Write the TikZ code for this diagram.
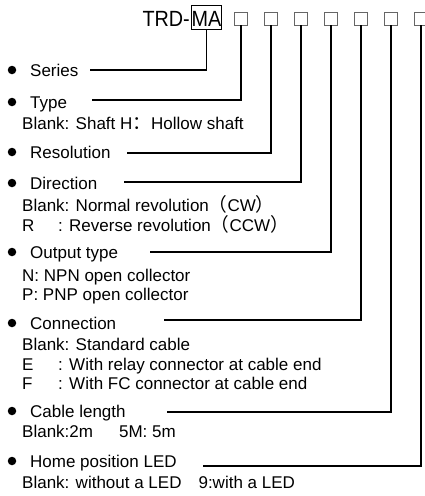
\documentclass[tikz,border=0pt]{standalone}
\usepackage{fontspec}
\setmainfont{Liberation Sans}
\newfontfamily\cjkf{Noto Sans CJK SC}[Scale=1.1]
\newcommand{\fw}[1]{{\cjkf #1}}
\newcommand{\ttl}[1]{\scalebox{0.9}[1]{#1}}
\begin{document}
\begin{tikzpicture}[x=1pt,y=-1pt,
  txt/.style={anchor=base west, inner sep=0, font=\fontsize{17}{20}\selectfont},
  dot/.style={circle, fill=black, inner sep=0, minimum size=8.5},
  sq/.style={draw=black!60, line width=0.8, minimum size=13, inner sep=0},
  conn/.style={line width=1.4, black}]
\useasboundingbox (0,0) rectangle (425,496);
% title
\node[anchor=base east, inner sep=0, font=\fontsize{22}{24}\selectfont] (trd) at (190,26) {\ttl{TRD-}};
\node[draw, line width=1.5, inner xsep=0.3, inner ysep=0, text height=20.5, text depth=3.5,
      anchor=base west, font=\fontsize{22}{24}\selectfont] (ma) at (190.5,26) {\ttl{MA}};
\foreach \i/\x in {1/241,2/271,3/301,4/331,5/361,6/391,7/421}{
  \node[sq] (s\i) at (\x,18.5) {};
}
% items
\node[dot] (b1) at (12,70) {};
\node[txt] (series) at (30,76) {Series};
\node[dot] (b2) at (12,102) {};
\node[txt] (type) at (30,108) {Type};
\node[txt] (typeA) at (22,129) {Blank: Shaft H\fw{：}Hollow shaft};
\node[dot] (b3) at (12,152) {};
\node[txt] (res) at (30,158) {Resolution};
\node[dot] (b4) at (12,183) {};
\node[txt] (dir) at (30,189) {Direction};
\node[txt] (dirA) at (22,211) {Blank: Normal revolution\fw{（}CW\fw{）}};
\node[txt] (dirB) at (22,231) {\makebox[36pt][l]{R}: Reverse revolution\fw{（}CCW\fw{）}};
\node[dot] (b5) at (12,252) {};
\node[txt] (out) at (30,258) {Output type};
\node[txt] (outA) at (22,281) {N: NPN open collector};
\node[txt] (outB) at (22,300) {P: PNP open collector};
\node[dot] (b6) at (12,323) {};
\node[txt] (con) at (30,329) {Connection};
\node[txt] (conA) at (22,350) {Blank: Standard cable};
\node[txt] (conB) at (22,370) {\makebox[36pt][l]{E}: With relay connector at cable end};
\node[txt] (conC) at (22,389) {\makebox[36pt][l]{F}: With FC connector at cable end};
\node[dot] (b7) at (12,411) {};
\node[txt] (cab) at (30,417) {Cable length};
\node[txt] (cabA) at (22,437) {Blank:2m\hspace{26pt}5M: 5m};
\node[dot] (b8) at (12,461) {};
\node[txt] (home) at (30,467) {Home position LED};
\node[txt] (homeA) at (22,488) {Blank: without a LED\hspace{17pt}9:with a LED};
% connector starts
\coordinate (c1) at (90,70);
\coordinate (c2) at (92,100);
\coordinate (c3) at (127,153);
\coordinate (c4) at (124,182);
\coordinate (c5) at (150,252);
\coordinate (c6) at (164,320);
\coordinate (c7) at (167,412);
\coordinate (c8) at (203,466);
\draw[conn] (c1) -| (ma.south);
\draw[conn] (c2) -| (s1.south);
\draw[conn] (c3) -| (s2.south);
\draw[conn] (c4) -| (s3.south);
\draw[conn] (c5) -| (s4.south);
\draw[conn] (c6) -| (s5.south);
\draw[conn] (c7) -| (s6.south);
\draw[conn] (c8) -| (s7.south);
\end{tikzpicture}
\end{document}
